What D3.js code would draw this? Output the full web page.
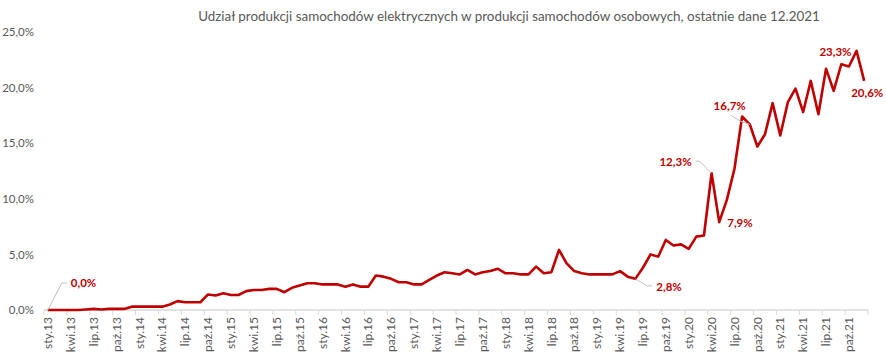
<!DOCTYPE html>
<html><head><meta charset="utf-8">
<script src="https://cdn.jsdelivr.net/npm/d3@7"></script>
<style>
html,body{margin:0;padding:0;background:#fff;}
svg{display:block;font-family:Lato, "Open Sans", sans-serif;}
</style></head>
<body>
<svg id="c" width="886" height="360"></svg>
<script>
const title = "Udział produkcji samochodów elektrycznych w produkcji samochodów osobowych, ostatnie dane 12.2021";
const years = ["13","14","15","16","17","18","19","20","21"];
const monthAbbr = ["sty","lut","mar","kwi","maj","cze","lip","sie","wrz","paź","lis","gru"];
// share of EV production in passenger car production, % (monthly)
const v2013 = [0.0,0.0,0.0,0.0,0.0,0.05,0.1,0.05,0.1,0.1,0.1,0.3];
const v2014 = [0.3,0.3,0.3,0.3,0.5,0.8,0.7,0.7,0.7,1.4,1.3,1.5];
const v2015 = [1.35,1.35,1.7,1.8,1.8,1.9,1.9,1.6,2.0,2.2,2.4,2.4];
const v2016 = [2.3,2.3,2.3,2.1,2.3,2.1,2.1,3.1,3.0,2.8,2.5,2.5];
const v2017 = [2.3,2.3,2.7,3.1,3.4,3.3,3.2,3.6,3.2,3.4,3.5,3.7];
const v2018 = [3.3,3.3,3.2,3.2,3.9,3.3,3.4,5.4,4.2,3.5,3.3,3.2];
const v2019 = [3.2,3.2,3.2,3.5,3.0,2.8,3.8,5.0,4.8,6.3,5.8,5.9];
const v2020 = [5.5,6.6,6.7,12.3,7.9,9.9,12.7,17.4,16.7,14.7,15.8,18.6];
const v2021 = [15.7,18.7,19.9,17.8,20.6,17.6,21.7,19.7,22.1,21.9,23.3,20.6];
const yTicks = [0,5,10,15,20,25];
// labelled points: month index
const labelIdx = [0,77,87,88,92,106,107];

const values = [].concat(v2013,v2014,v2015,v2016,v2017,v2018,v2019,v2020,v2021);
const cats = [];
years.forEach(y => monthAbbr.forEach(m => cats.push(m + "." + y)));
const data = values.map((v,i)=>({i, cat:cats[i], v}));

const fmt = v => d3.format(".1f")(v).replace(".", ",") + "%";

const svg = d3.select("#c");
const x = d3.scaleBand().domain(d3.range(values.length)).range([44, 868]).paddingInner(0).paddingOuter(0);
const y = d3.scaleLinear().domain([0,25]).range([310, 32]);
const cx = i => x(i) + x.bandwidth()/2;

const gray = "#595959", red = "#C00000", axisCol = "#D9D9D9";

// title
const t = svg.append("text").attr("x", 509).attr("y", 21).attr("text-anchor","middle")
  .attr("fill", gray).style("font-size","12px").text(title);
const tw = t.node().getComputedTextLength();
t.style("font-size", (12*622/tw).toFixed(2)+"px");

// y axis labels
const yAxis = d3.axisLeft(y).tickValues(yTicks).tickSize(0).tickPadding(0).tickFormat(d => fmt(d));
const gy = svg.append("g").attr("transform","translate(34,0)").call(yAxis);
gy.select(".domain").remove();
gy.selectAll("text").attr("fill", gray).style("font-size","11.5px").style("font-family","Lato, 'Open Sans', sans-serif");

// x axis
const tickIdx = d3.range(0, values.length, 3);
const gx = svg.append("g").attr("transform","translate(0,310)");
gx.append("line").attr("x1",44).attr("x2",868).attr("stroke",axisCol).attr("stroke-width",1.5);
gx.selectAll("line.tk").data(tickIdx.concat([values.length])).join("line").attr("class","tk")
  .attr("x1", i => i < values.length ? x(i) : 868).attr("x2", i => i < values.length ? x(i) : 868)
  .attr("y1",0).attr("y2",5).attr("stroke",axisCol).attr("stroke-width",1);
gx.selectAll("text").data(tickIdx).join("text")
  .attr("transform", i => `translate(${cx(i)},7) rotate(-90)`)
  .attr("text-anchor","end").attr("dy","0.35em")
  .attr("fill", gray).style("font-size","12px").text(i => cats[i]);

// line
const line = d3.line().x(d => cx(d.i)).y(d => y(d.v));
svg.append("path").datum(data).attr("d", line).attr("fill","none")
  .attr("stroke", red).attr("stroke-width", 2.6).attr("stroke-linejoin","round");

// data labels: offsets relative to point
const labelCfg = {
  0:   {dx:23, dy:-27, anchor:"start", leader:[[14,-27],[19,-27]]},
  77:  {dx:21, dy:8, anchor:"start", leader:[[12,7],[17,7]]},
  87:  {dx:-20, dy:-11, anchor:"end", leader:[[-12,-12],[-16,-12]]},
  88:  {dx:8, dy:1, anchor:"start"},
  92:  {dx:-4, dy:-18, anchor:"end", leader:[[-9,-3],[-19,-9]]},
  106: {dx:-5, dy:1, anchor:"end"},
  107: {dx:-13, dy:12, anchor:"start"}
};
const lg = svg.append("g");
labelIdx.forEach(i => {
  const c = labelCfg[i], px = cx(i), py = y(values[i]);
  if (c.leader) {
    const pts = [[px,py]].concat(c.leader.map(p => [px+p[0], py+p[1]]));
    lg.append("path").attr("d", d3.line()(pts)).attr("fill","none").attr("stroke","#BFBFBF").attr("stroke-width",1);
  }
  lg.append("text").attr("x", px + c.dx).attr("y", py + c.dy).attr("dy","0.35em")
    .attr("text-anchor", c.anchor).attr("fill", red).style("font-size","11.5px").style("font-weight","bold")
    .text(fmt(values[i]));
});
</script>
</body></html>
